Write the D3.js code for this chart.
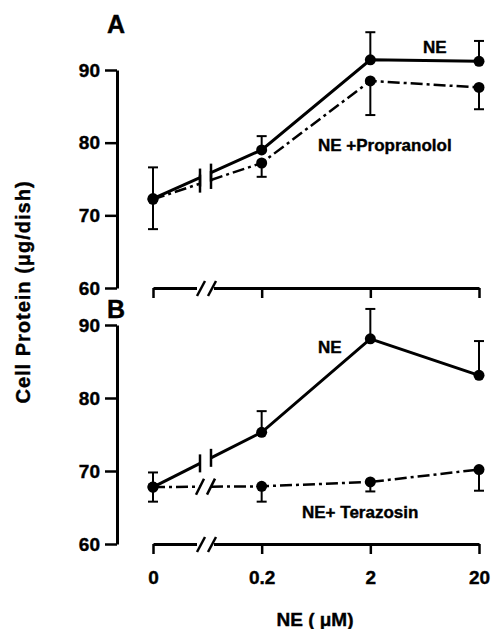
<!DOCTYPE html>
<html>
<head>
<meta charset="utf-8">
<script src="https://cdn.jsdelivr.net/npm/d3@7"></script>
<style>
  body { margin: 0; background: #fff; }
  svg { display: block; font-family: "Liberation Sans", Arial, sans-serif; font-weight: bold; }
  text { stroke: #000; stroke-width: 0.4px; }
</style>
</head>
<body>
<script>
// data
var doses = ['0', '0.2', '2', '20'];
var yTicks = [60, 70, 80, 90];

var neA = [72.3, 79.0, 91.4, 91.2];
var neAErr = [4.3, 1.9, 3.8, 2.8];
var propA = [72.2, 77.2, 88.5, 87.6];
var propAErr = [4.1, 1.9, 4.7, 3.0];

var neB = [67.8, 75.3, 88.1, 83.1];
var neBErr = [2.0, 2.9, 4.1, 4.7];
var teraB = [67.8, 67.9, 68.5, 70.2];
var teraBErr = [2.0, 2.1, 1.3, 2.9];

var width = 494, height = 629;
var breakX1 = 200, breakX2 = 211;

var svg = d3.select('body').append('svg')
    .attr('width', width)
    .attr('height', height);

var xScale = d3.scalePoint()
    .domain(doses)
    .range([153, 479]);

// a panel: y axis, broken x axis, series
var panel = function(top, bottom, letter, series, showLabels){
    var yScale = d3.scaleLinear().domain([60, 90]).range([bottom, top]);

    // y axis
    var yAxis = d3.axisLeft(yScale).tickValues(yTicks).tickSize(12).tickSizeOuter(0).tickPadding(5);
    var gy = svg.append('g')
        .attr('transform', 'translate(117,0)')
        .call(yAxis);
    gy.select('.domain').attr('stroke-width', 3);
    gy.selectAll('.tick line').attr('stroke-width', 2.5);
    gy.selectAll('.tick text')
        .attr('font-size', 19)
        .attr('font-weight', 'bold')
        .attr('font-family', '"Liberation Sans", Arial, sans-serif')
        .attr('fill', '#000');

    // x axis (ticks down)
    var xAxis = d3.axisBottom(xScale).tickSize(10).tickSizeOuter(0).tickPadding(17);
    var gx = svg.append('g')
        .attr('transform', 'translate(0,' + bottom + ')')
        .call(xAxis);
    gx.select('.domain').attr('stroke-width', 3);
    gx.selectAll('.tick line').attr('stroke-width', 2.5);
    gx.selectAll('.tick text')
        .attr('font-size', 19)
        .attr('font-weight', 'bold')
        .attr('font-family', '"Liberation Sans", Arial, sans-serif')
        .attr('fill', '#000')
        .style('display', showLabels ? null : 'none');

    // axis break
    gx.append('rect')
        .attr('x', breakX1 - 3).attr('y', -4)
        .attr('width', breakX2 - breakX1 + 6).attr('height', 8)
        .attr('fill', '#fff');
    [breakX1 + 1, breakX2 + 1].forEach(function(bx){
        gx.append('line')
            .attr('x1', bx - 4).attr('y1', 8)
            .attr('x2', bx + 4).attr('y2', -7)
            .attr('stroke', '#000').attr('stroke-width', 2.5);
    });

    // letter
    svg.append('text')
        .attr('x', 107).attr('y', top - 37 + (letter == 'B' ? 30 : 0))
        .attr('font-size', 25)
        .text(letter);

    series.forEach(function(s){
        var pts = s.values.map(function(v, i){
            return [xScale(doses[i]), yScale(v)];
        });
        var yAt = function(x){
            var t = (x - pts[0][0]) / (pts[1][0] - pts[0][0]);
            return pts[0][1] + t * (pts[1][1] - pts[0][1]);
        };
        var b1 = [breakX1, yAt(breakX1)], b2 = [breakX2, yAt(breakX2)];
        var line = d3.line();
        var dash = s.dashed ? '12,4,3,4' : null;

        svg.append('path')
            .attr('d', line([pts[0], b1]))
            .attr('fill', 'none').attr('stroke', '#000')
            .attr('stroke-width', s.dashed ? 2.5 : 3)
            .attr('stroke-dasharray', dash);
        svg.append('path')
            .attr('d', line([b2].concat(pts.slice(1))))
            .attr('fill', 'none').attr('stroke', '#000')
            .attr('stroke-width', s.dashed ? 2.5 : 3)
            .attr('stroke-dasharray', dash);

        // break marks
        [b1, b2].forEach(function(b){
            if(s.breakStyle == 'bar'){
                svg.append('line')
                    .attr('x1', b[0]).attr('y1', b[1] - 9)
                    .attr('x2', b[0]).attr('y2', b[1] + 9)
                    .attr('stroke', '#000').attr('stroke-width', 2.5);
            } else {
                svg.append('line')
                    .attr('x1', b[0] - 4).attr('y1', b[1] + 8)
                    .attr('x2', b[0] + 4).attr('y2', b[1] - 8)
                    .attr('stroke', '#000').attr('stroke-width', 2.5);
            }
        });

        // error bars (one direction)
        s.values.forEach(function(v, i){
            if(!s.err[i]) return;
            var x = xScale(doses[i]);
            var y0 = yScale(v);
            var y1 = yScale(v + s.dir * s.err[i]);
            svg.append('line')
                .attr('x1', x).attr('y1', y0).attr('x2', x).attr('y2', y1)
                .attr('stroke', '#000').attr('stroke-width', 2);
            svg.append('line')
                .attr('x1', x - 5).attr('y1', y1).attr('x2', x + 5).attr('y2', y1)
                .attr('stroke', '#000').attr('stroke-width', 2);
        });

        // markers
        svg.selectAll(null)
            .data(pts)
            .enter()
            .append('circle')
            .attr('cx', function(d){ return d[0]; })
            .attr('cy', function(d){ return d[1]; })
            .attr('r', 5.5)
            .attr('fill', '#000');
    });
};

// panel A
panel(70, 288, 'A', [
    {values: neA, err: neAErr, dir: 1, dashed: false, breakStyle: 'bar'},
    {values: propA, err: propAErr, dir: -1, dashed: true, breakStyle: 'bar'}
], false);

// panel B
panel(325, 544, 'B', [
    {values: neB, err: neBErr, dir: 1, dashed: false, breakStyle: 'bar'},
    {values: teraB, err: teraBErr, dir: -1, dashed: true, breakStyle: 'slash'}
], true);

// series labels
svg.append('text').attr('x', 423).attr('y', 53).attr('font-size', 17).text('NE');
svg.append('text').attr('x', 318).attr('y', 151).attr('font-size', 17).text('NE +Propranolol');
svg.append('text').attr('x', 318).attr('y', 353).attr('font-size', 17).text('NE');
svg.append('text').attr('x', 302).attr('y', 518).attr('font-size', 17).text('NE+ Terazosin');

// axis titles
svg.append('text')
    .attr('transform', 'translate(30,292) rotate(-90)')
    .attr('text-anchor', 'middle')
    .attr('font-size', 20)
    .attr('letter-spacing', 1)
    .text('Cell Protein (\u03bcg/dish)');

svg.append('text')
    .attr('x', 315).attr('y', 626)
    .attr('text-anchor', 'middle')
    .attr('font-size', 19)
    .text('NE ( \u03bcM)');
</script>
</body>
</html>
